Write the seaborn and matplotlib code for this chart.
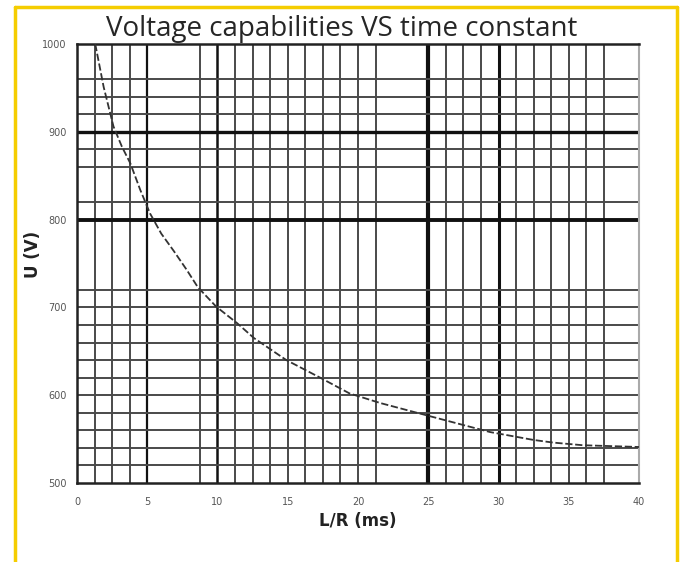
import matplotlib
matplotlib.use("Agg")
import matplotlib.pyplot as plt
import seaborn as sns
import pandas as pd
from matplotlib.lines import Line2D

# curve
lr_ms = [1.3, 1.9, 2.6, 3.2, 3.8, 4.5, 5.2, 6.0, 6.9, 7.8, 8.6, 9.9, 11.4,
         12.6, 14.9, 17.3, 19.4, 21.6, 24.9, 27.5, 29.4, 32.5, 33.9, 36.0, 40.0]
voltage = [1000, 951, 906, 883, 864, 834, 807, 784, 764, 743, 723, 701, 682,
           665, 640, 620, 602, 591, 577, 566, 558, 549, 546, 543, 541]

x_ticks = [0, 5, 10, 15, 20, 25, 30, 35, 40]
y_ticks = [500, 600, 700, 800, 900, 1000]

# the printed grid is irregular (some lines missing)
grid_x = [1.25, 2.5, 3.75, 5, 8.75, 10, 11.25, 12.5, 13.75, 15, 16.25, 17.5,
          18.75, 20, 21.25, 25, 26.25, 27.5, 28.75, 30, 31.25, 32.5, 33.75,
          35, 36.25, 37.5]
grid_y = [520, 540, 560, 580, 600, 620, 640, 660, 680, 700, 720, 800, 820,
          860, 880, 900, 920, 940, 960]
heavy_x = {25: 3.0, 30: 2.2, 10: 1.8, 5: 1.6}
heavy_y = {800: 2.8, 900: 2.4}

df = pd.DataFrame({"L/R": lr_ms, "U": voltage})

sns.set_style("white")
plt.rcParams['font.family'] = ['DejaVu Sans']

fig = plt.figure(figsize=(6.83, 5.62), dpi=100)
ax = fig.add_axes([0.1127, 0.1406, 0.8229, 0.7811])

for gx in grid_x:
    lw = heavy_x.get(gx, 1.4)
    ax.axvline(gx, color="#111" if gx in heavy_x else "#4a4a4a", lw=lw, zorder=1)
for gy in grid_y:
    lw = heavy_y.get(gy, 1.4)
    ax.axhline(gy, color="#111" if gy in heavy_y else "#4a4a4a", lw=lw, zorder=1)

sns.lineplot(data=df, x="L/R", y="U", ax=ax, color="#333333", lw=1.3,
             linestyle=(0, (4, 1.5)), zorder=3)

ax.set_xlim(0, 40)
ax.set_ylim(500, 1000)
ax.set_xticks(x_ticks)
ax.set_yticks(y_ticks)
ax.tick_params(axis="both", labelsize=7, labelcolor="#555", length=4,
               color="#555", width=1)
ax.tick_params(axis="x", length=0, pad=10)

for side in ["left", "bottom", "top"]:
    ax.spines[side].set_color("#222")
    ax.spines[side].set_linewidth(1.8)
ax.spines["right"].set_color("#aaa")
ax.spines["right"].set_linewidth(1.5)

ax.set_xlabel("L/R (ms)", fontsize=12, fontweight="bold", color="#222", labelpad=4)
ax.set_ylabel("U (V)", fontsize=12, fontweight="bold", color="#222")
ax.yaxis.set_label_coords(-0.062, 0.52)

fig.text(0.5, 0.948, "Voltage capabilities VS time constant",
         ha="center", va="center", fontsize=20, family=["Open Sans", "DejaVu Sans"])

# yellow frame (open at the bottom)
yc = "#F5CD00"
fig.add_artist(Line2D([15 / 683, 15 / 683], [0, 1 - 7 / 562], color=yc, lw=2.5, transform=fig.transFigure))
fig.add_artist(Line2D([677 / 683, 677 / 683], [0, 1 - 7 / 562], color=yc, lw=2.5, transform=fig.transFigure))
fig.add_artist(Line2D([15 / 683, 677 / 683], [1 - 7 / 562, 1 - 7 / 562], color=yc, lw=2.5, transform=fig.transFigure))

fig.savefig("out.png", dpi=100)
